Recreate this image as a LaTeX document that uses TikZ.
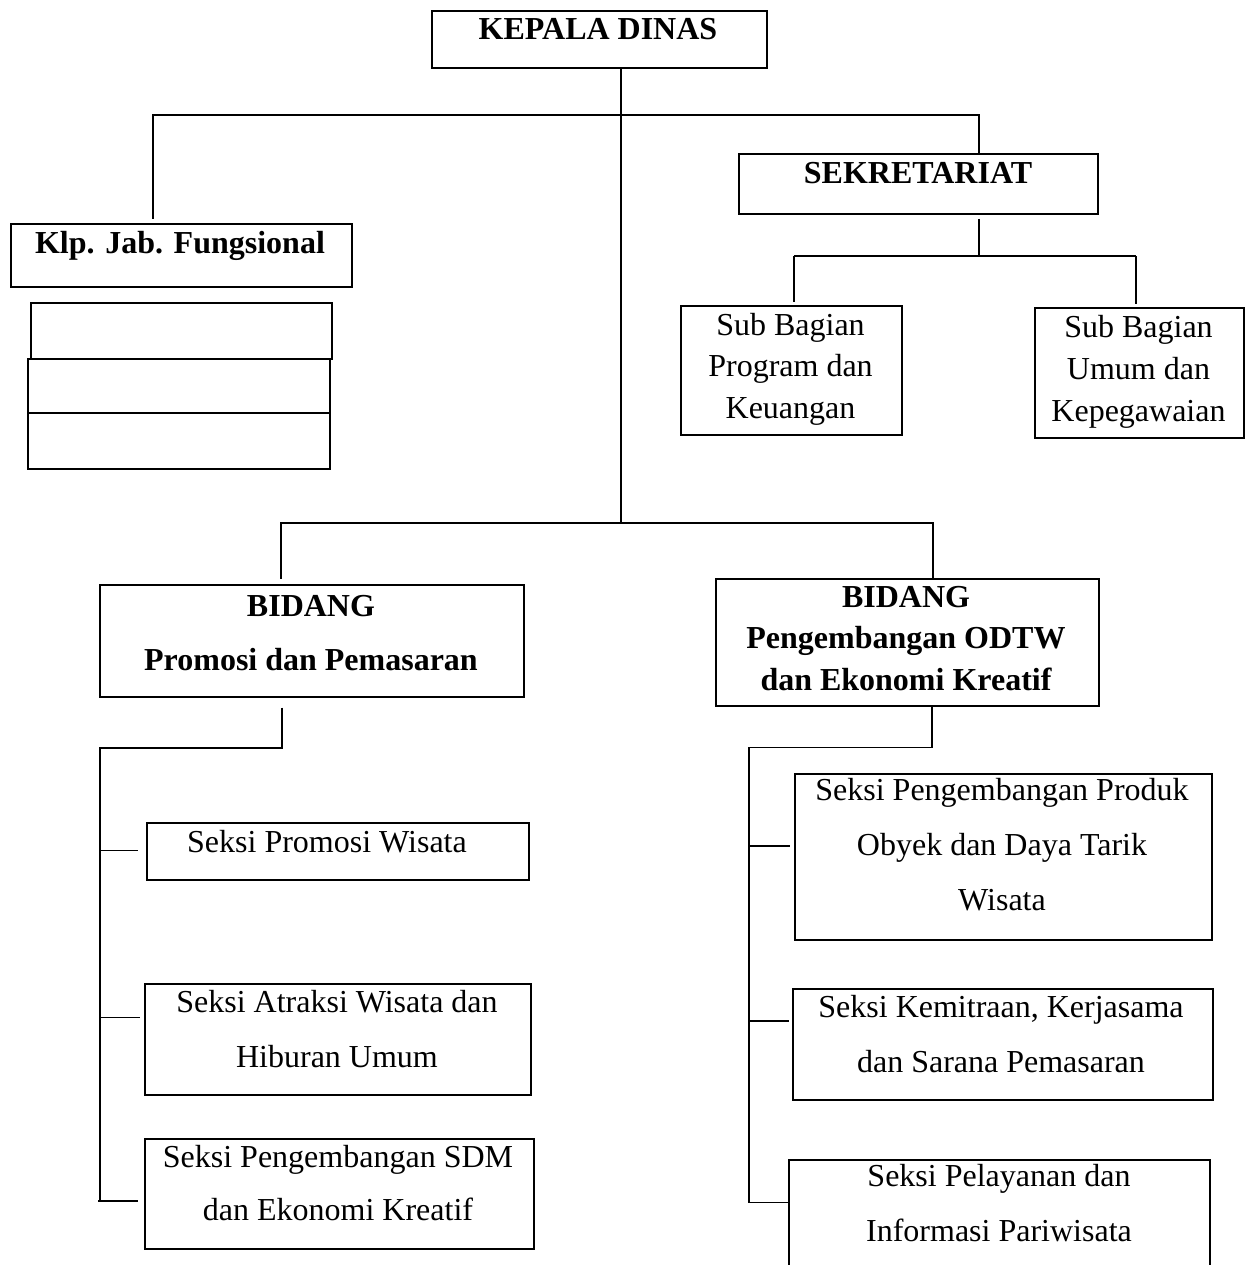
\documentclass[tikz,border=0pt]{standalone}
\usepackage{fontspec}
\setmainfont{Liberation Serif}
\begin{document}
\begin{tikzpicture}[x=1pt,y=-1pt,
  box/.style={draw=black, line width=2pt, inner sep=0pt, anchor=north west},
  conn/.style={draw=black, line width=1.8pt},
  txt/.style={inner sep=0pt, align=center, anchor=base, font=\fontsize{32}{55}\selectfont},
  btxt/.style={inner sep=0pt, align=center, anchor=base, font=\fontsize{32}{41.5}\selectfont\bfseries}]
\path[fill=white, use as bounding box] (0,0) rectangle (1250,1265);

% boxes
\node[box, minimum width=335, minimum height=57] (kd) at (431,10) {};
\node[box, minimum width=341, minimum height=63] (klp) at (10,223) {};
\node[box, minimum width=301, minimum height=56] (e1) at (30,302) {};
\node[box, minimum width=302, minimum height=54] (e2) at (27,358) {};
\node[box, minimum width=302, minimum height=56] (e3) at (27,412) {};
\node[box, minimum width=359, minimum height=60] (sek) at (738,153) {};
\node[box, minimum width=221, minimum height=129] (sb1) at (680,305) {};
\node[box, minimum width=209, minimum height=130] (sb2) at (1034,307) {};
\node[box, minimum width=424, minimum height=112] (bp) at (99,583.5) {};
\node[box, minimum width=383, minimum height=127] (bo) at (715,578) {};
\node[box, minimum width=382, minimum height=57] (sp) at (146,821.5) {};
\node[box, minimum width=386.5, minimum height=111] (sa) at (143.5,982.5) {};
\node[box, minimum width=389.5, minimum height=109.5] (ss) at (143.5,1138) {};
\node[box, minimum width=417.5, minimum height=166.5] (pp) at (793.5,772.5) {};
\node[box, minimum width=420, minimum height=111] (pk) at (792,987.5) {};
\node[box, minimum width=421, minimum height=125] (pl) at (788,1158.5) {};

% texts (anchor = baseline of last line)
\node[btxt] (kdT) at (598,40) {KEPALA DINAS};
\node[btxt] (klpT) at (180,253) {Klp. Jab. Fungsional};
\node[btxt] (sekT) at (918,184) {SEKRETARIAT};
\node[txt, font=\fontsize{32}{41.5}\selectfont] (sb1T) at (790.5,418) {Sub Bagian\\Program dan\\Keuangan};
\node[txt, font=\fontsize{32}{42}\selectfont] (sb2T) at (1138.5,421) {Sub Bagian\\Umum dan\\Kepegawaian};
\node[btxt, font=\fontsize{32}{54}\selectfont\bfseries] (bpT) at (311,670) {BIDANG\\Promosi dan Pemasaran};
\node[btxt] (boT) at (906,690) {BIDANG\\Pengembangan ODTW\\dan Ekonomi Kreatif};
\node[txt] (spT) at (327,852.5) {Seksi Promosi Wisata};
\node[txt] (saT) at (337,1067.5) {Seksi Atraksi Wisata dan\\Hiburan Umum};
\node[txt, font=\fontsize{32}{52.5}\selectfont] (ssT) at (338,1220) {Seksi Pengembangan SDM\\dan Ekonomi Kreatif};
\node[txt] (ppT) at (1002,910) {Seksi Pengembangan Produk\\Obyek dan Daya Tarik\\Wisata};
\node[txt] (pkT) at (1001,1072.5) {Seksi Kemitraan, Kerjasama\\dan Sarana Pemasaran};
\node[txt, font=\fontsize{32}{54.5}\selectfont] (plT) at (999,1241) {Seksi Pelayanan dan\\Informasi Pariwisata};

% junction coordinates
\coordinate (jTop) at (621,115);
\coordinate (jBot) at (621,523);
\coordinate (barL) at (153,115);
\coordinate (barR) at (979,115);
\coordinate (sJ) at (979,256);
\coordinate (sL) at (794,256);
\coordinate (sR) at (1136,256);
\coordinate (bL) at (281,523);
\coordinate (bR) at (933,523);
\coordinate (pTop) at (282,748);
\coordinate (pCorner) at (100,748);
\coordinate (pB1) at (100,850.5);
\coordinate (pB2) at (100,1017.5);
\coordinate (pB3) at (98,1201);
\coordinate (pEnd) at (100,1201);
\coordinate (oTop) at (932,747.5);
\coordinate (oCorner) at (749,747.5);
\coordinate (oB1) at (749,846);
\coordinate (oB2) at (749,1021);
\coordinate (oB3) at (749,1202.5);

% connectors
\draw[conn] (kd.south -| jTop) -- (jBot);
\draw[conn, shorten <=4pt] (klp.north -| barL) -- (barL) -- (barR) -- (sek.north -| barR);
\draw[conn, shorten <=4pt] (sek.south -| sJ) -- (sJ);
\draw[conn, shorten >=3pt] (sL) -- (sb1.north -| sL);
\draw[conn, shorten >=3pt] (sR) -- (sb2.north -| sR);
\draw[conn] (sL) -- (sR);
\draw[conn, shorten <=5pt] (bp.north -| bL) -- (bL) -- (bR) -- (bo.north -| bR);
\draw[conn, shorten <=10pt] (bp.south -| pTop) -- (pTop) -- (pCorner) -- (pEnd);
\draw[conn, shorten >=8pt] (pB1) -- (pB1 -| sp.west);
\draw[conn, shorten >=4pt] (pB2) -- (pB2 -| sa.west);
\draw[conn, shorten >=6pt] (pB3) -- (pB3 -| ss.west);
\draw[conn] (bo.south -| oTop) -- (oTop) -- (oCorner) -- (oB3);
\draw[conn, shorten >=4pt] (oB1) -- (oB1 -| pp.west);
\draw[conn, shorten >=3pt] (oB2) -- (oB2 -| pk.west);
\draw[conn] (oB3) -- (oB3 -| pl.west);
\end{tikzpicture}
\end{document}
